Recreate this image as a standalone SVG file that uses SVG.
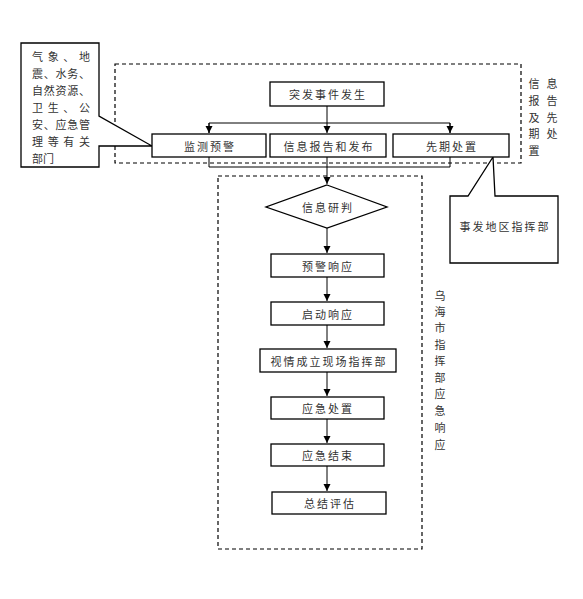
<svg xmlns="http://www.w3.org/2000/svg" width="583" height="599" viewBox="0 0 583 599">
<defs>
<marker id="ah" markerWidth="8" markerHeight="8" refX="7" refY="4" orient="auto" markerUnits="userSpaceOnUse">
<path d="M0,0.5 L7,4 L0,7.5 Z" fill="#000"/>
</marker>
<style>
.box{fill:#fff;stroke:#000;stroke-width:1.3}
.dash{fill:none;stroke:#000;stroke-width:1.2;stroke-dasharray:4,3}
.ln{fill:none;stroke:#000;stroke-width:1}
.t{font-family:"Noto Sans CJK SC","Noto Sans",sans-serif;font-size:11px;fill:#333;text-anchor:middle;dominant-baseline:central;letter-spacing:2px}
.v{font-family:"Noto Sans CJK SC","Noto Sans",sans-serif;font-size:11px;fill:#333;text-anchor:middle;dominant-baseline:central}
.j{font-family:"Noto Sans CJK SC","Noto Sans",sans-serif;font-size:11px;fill:#333;dominant-baseline:central}
</style>
</defs>
<rect width="583" height="599" fill="#fff"/>

<g id="groups">
<rect class="dash" x="115" y="64" width="406" height="99"/>
<rect class="dash" x="218" y="176" width="204" height="373"/>
<g id="label-top">
<text class="v" x="534" y="83">信</text><text class="v" x="552" y="83">息</text>
<text class="v" x="534" y="100">报</text><text class="v" x="552" y="100">告</text>
<text class="v" x="534" y="117">及</text><text class="v" x="552" y="117">先</text>
<text class="v" x="534" y="133">期</text><text class="v" x="552" y="133">处</text>
<text class="v" x="534" y="150">置</text>
</g>
<g id="label-bottom">
<text class="v" x="440" y="295">乌</text>
<text class="v" x="440" y="311">海</text>
<text class="v" x="440" y="327">市</text>
<text class="v" x="440" y="344">指</text>
<text class="v" x="440" y="360">挥</text>
<text class="v" x="440" y="377">部</text>
<text class="v" x="440" y="393">应</text>
<text class="v" x="440" y="410">急</text>
<text class="v" x="440" y="427">响</text>
<text class="v" x="440" y="444">应</text>
</g>
</g>

<g id="connectors">
<path class="ln" d="M327,106 V133" marker-end="url(#ah)"/>
<path class="ln" d="M209,133 V123 H450 V133" />
<path class="ln" d="M209,123 V133" marker-end="url(#ah)"/>
<path class="ln" d="M450,123 V133" marker-end="url(#ah)"/>
<path class="ln" d="M209,157 V167 H450 V157"/>
<path class="ln" d="M327,157 V184" marker-end="url(#ah)"/>
<path class="ln" d="M327,228 V253" marker-end="url(#ah)"/>
<path class="ln" d="M327,277 V301" marker-end="url(#ah)"/>
<path class="ln" d="M327,325 V348" marker-end="url(#ah)"/>
<path class="ln" d="M327,372 V396" marker-end="url(#ah)"/>
<path class="ln" d="M327,419 V443" marker-end="url(#ah)"/>
<path class="ln" d="M327,466 V491" marker-end="url(#ah)"/>
</g>

<g id="n-depts">
<path class="box" d="M21,43 H99 V116 L152,146 H99 V167 H21 Z"/>
<text class="j" x="32" y="56" textLength="58" lengthAdjust="spacing">气象、地</text>
<text class="j" x="32" y="73" textLength="58" lengthAdjust="spacing">震、水务、</text>
<text class="j" x="32" y="90" textLength="58" lengthAdjust="spacing">自然资源、</text>
<text class="j" x="32" y="107" textLength="58" lengthAdjust="spacing">卫生、公</text>
<text class="j" x="32" y="124" textLength="58" lengthAdjust="spacing">安、应急管</text>
<text class="j" x="32" y="141" textLength="58" lengthAdjust="spacing">理等有关</text>
<text class="j" x="32" y="158">部门</text>
</g>
<g id="n-local">
<path class="box" d="M450,196 H468 L493,157 L495,196 H558 V263 H450 Z"/>
<text class="t" x="505" y="226">事发地区指挥部</text>
</g>
<g id="n-event"><rect class="box" x="270" y="82" width="114" height="24"/><text class="t" x="328" y="94">突发事件发生</text></g>
<g id="n-monitor"><rect class="box" x="152" y="134" width="114" height="23"/><text class="t" x="210" y="146">监测预警</text></g>
<g id="n-report"><rect class="box" x="270" y="134" width="116" height="23"/><text class="t" x="329" y="146">信息报告和发布</text></g>
<g id="n-early"><rect class="box" x="393" y="134" width="116" height="23"/><text class="t" x="452" y="146">先期处置</text></g>
<g id="n-judge"><path class="box" d="M327,185 L387,207 L327,228 L266,207 Z"/><text class="t" x="328" y="207">信息研判</text></g>
<g id="n-warn"><rect class="box" x="271" y="254" width="113" height="23"/><text class="t" x="328" y="266">预警响应</text></g>
<g id="n-start"><rect class="box" x="271" y="302" width="113" height="23"/><text class="t" x="328" y="314">启动响应</text></g>
<g id="n-field"><rect class="box" x="260" y="349" width="136" height="23"/><text class="t" x="329" y="361">视情成立现场指挥部</text></g>
<g id="n-handle"><rect class="box" x="271" y="397" width="113" height="22"/><text class="t" x="328" y="408">应急处置</text></g>
<g id="n-end"><rect class="box" x="271" y="444" width="113" height="22"/><text class="t" x="328" y="455">应急结束</text></g>
<g id="n-eval"><rect class="box" x="272" y="492" width="114" height="22"/><text class="t" x="330" y="503">总结评估</text></g>
</svg>
